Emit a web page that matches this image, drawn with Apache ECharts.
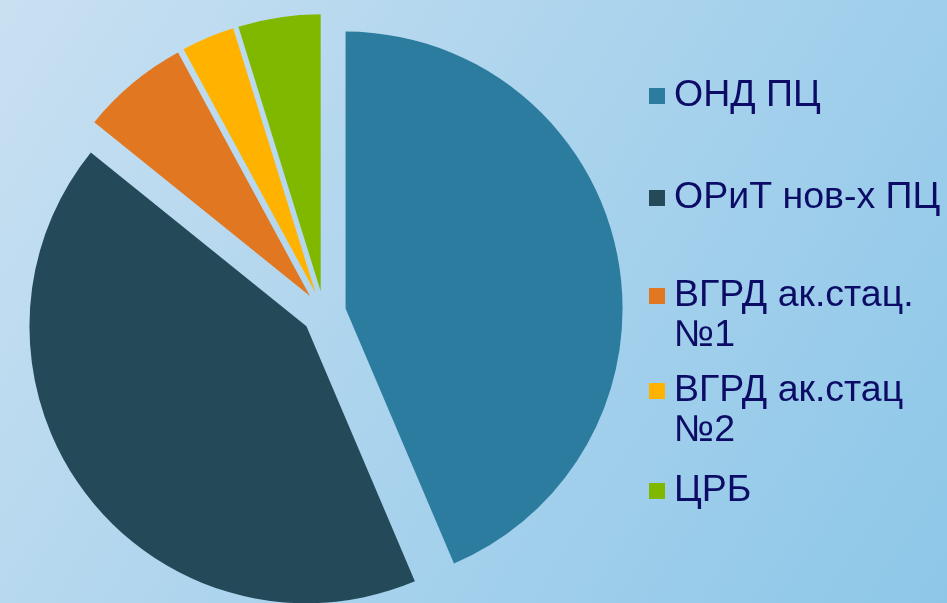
<!DOCTYPE html>
<html>
<head>
<meta charset="utf-8">
<script src="https://cdn.jsdelivr.net/npm/echarts@6/dist/echarts.min.js"></script>
<style>
html,body{margin:0;padding:0;}
#chart{width:947px;height:603px;}
</style>
</head>
<body>
<div id="chart"></div>
<script>
const categories = ['ОНД ПЦ', 'ОРиТ нов-х ПЦ', 'ВГРД ак.стац. №1', 'ВГРД ак.стац №2', 'ЦРБ'];
const values = [43.6, 42.2, 6.3, 3.1, 4.8];
const colors = ['#2C7C9F', '#244A5A', '#E27722', '#FFB300', '#80B800'];

const legendCenters = [96, 198, 296, 391, 491];
const lh = 40;

const chart = echarts.init(document.getElementById('chart'));

const legends = categories.map(function (name, i) {
  const twoLine = name.indexOf(' №') >= 0;
  return {
    show: true,
    orient: 'vertical',
    left: 649,
    top: twoLine ? legendCenters[i] - 1.5 * lh : legendCenters[i] - lh / 2,
    padding: 0,
    itemWidth: 16,
    itemHeight: 16,
    icon: 'rect',
    selectedMode: false,
    data: [name],
    formatter: function (n) {
      return twoLine ? '\n' + n.replace(' №', '\n№') : n;
    },
    textStyle: {
      fontFamily: 'Liberation Sans, Arial, sans-serif',
      fontSize: 37.5,
      color: '#0C0C66',
      lineHeight: lh,
      padding: [0, 0, 0, 4]
    }
  };
});

chart.setOption({
  animation: false,
  backgroundColor: new echarts.graphic.LinearGradient(0, 0, 1, 1, [
    { offset: 0, color: '#C9E0F1' },
    { offset: 0.5, color: '#AAD3ED' },
    { offset: 1, color: '#8DC7E8' }
  ]),
  color: colors,
  legend: legends,
  series: [{
    type: 'pie',
    center: [324, 313],
    radius: 277,
    startAngle: 90,
    clockwise: true,
    selectedMode: 'multiple',
    selectedOffset: 22,
    label: { show: false },
    labelLine: { show: false },
    itemStyle: { borderWidth: 0 },
    emphasis: { scale: false },
    data: categories.map(function (n, i) {
      return { name: n, value: values[i], selected: true };
    })
  }]
});
</script>
</body>
</html>
